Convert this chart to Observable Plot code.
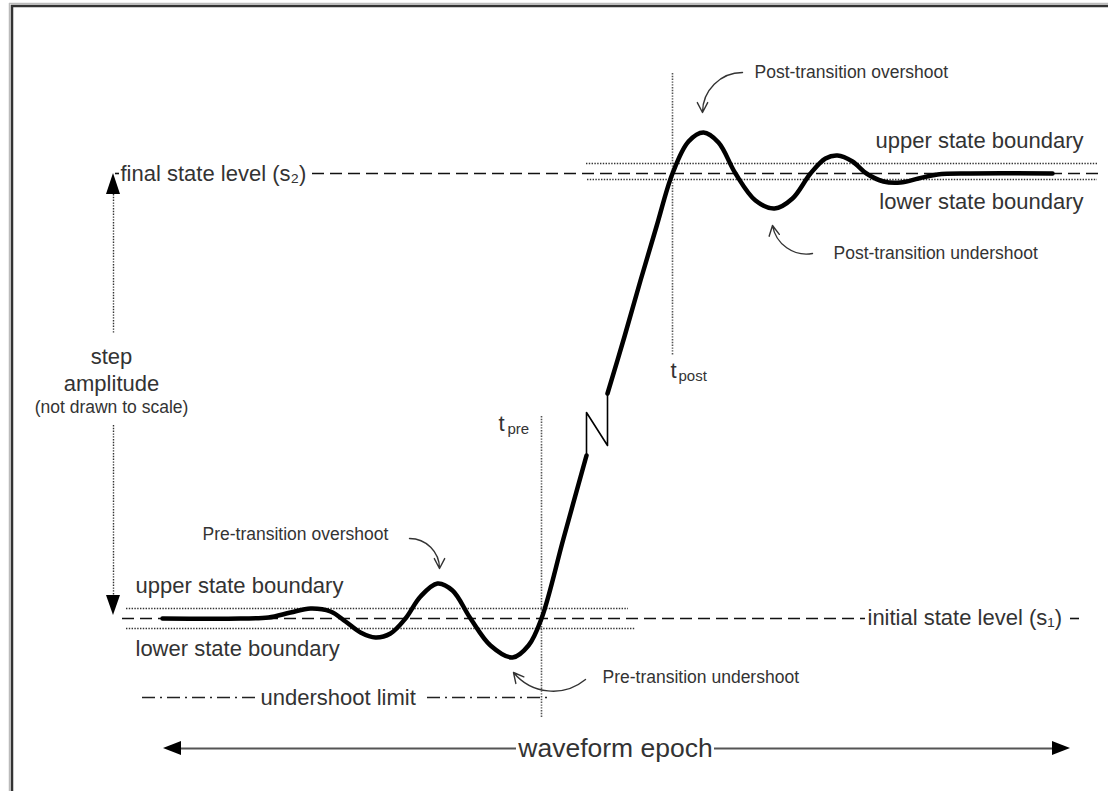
<!DOCTYPE html>
<html><head><meta charset="utf-8">
<script src="https://cdn.jsdelivr.net/npm/d3@7"></script>
<script src="https://cdn.jsdelivr.net/npm/@observablehq/plot@0.6"></script>
<style>html,body{margin:0;background:#fff;overflow:hidden}svg{display:block}</style>
</head><body><div id="chart"></div>
<script>
const W = 1108, H = 791;

const preWave = [[162,618],[240,618],[268,617],[290,612],[310,608],[330,611],[345,621],[360,632],[375,637],[390,633],[405,618],[420,596],[437,583],[452,590],[470,618],[490,645],[512,657],[528,645],[541,618],[563,538],[586,455]];
const breakLine = [[586,455],[586,412],[607,445],[607,393]];
const postWave = [[607,393],[624,336],[640,280],[656,226],[672,173],[688,141],[703,132],[718,142],[735,173],[755,200],[774,208],[792,198],[810,173],[825,158],[837,155],[852,161],[866,173],[883,181],[900,182],[918,178],[937,174],[970,173],[1052,173]];

// reference levels
const dashedLevels = [
  {y:173, x1:115, x2:119},
  {y:173, x1:312, x2:1103},
  {y:618, x1:122, x2:865},
  {y:618, x1:1070, x2:1079}
];
const dottedBounds = [
  {y:608, x1:126, x2:628}, {y:628, x1:126, x2:635},
  {y:163, x1:586, x2:1097}, {y:179, x1:587, x2:1097}
];
const undershootLimit = [{y:697, x1:142, x2:258}, {y:697, x1:427, x2:552}];
const timeMarks = [{x:541, y1:416, y2:718}, {x:672, y1:73, y2:355}];
const amplitudeDots = [{x:113, y1:194, y2:333}, {x:113, y1:425, y2:595}];
const epochLine = [{y:748, x1:181, x2:516}, {y:748, x1:714, x2:1052}];

// arrow heads (filled triangles)
const upHead = [[106,194,194],[113,194,173],[120,194,194]];
const downHead = [[106,595,595],[113,595,615],[120,595,595]];
const leftHead = [[741,181,181],[748,181,163],[755,181,181]];
const rightHead = [[741,1052,1052],[748,1052,1070],[755,1052,1052]];

// annotation arrows (start → tip)
const notesCW = [
  {x1:409, y1:538, x2:439, y2:568},
  {x1:585, y1:679, x2:513, y2:672},
  {x1:812, y1:253, x2:772, y2:225}
];
const notesCCW = [
  {x1:742, y1:72, x2:702, y2:112}
];

// labels
const mainStart = [
  {x:120, y:173, text:"final state level (s₂)"},
  {x:867, y:617, text:"initial state level (s₁)"},
  {x:135, y:585, text:"upper state boundary"},
  {x:135, y:648, text:"lower state boundary"},
  {x:260, y:697, text:"undershoot limit"}
];
const mainEnd = [
  {x:1083, y:140, text:"upper state boundary"},
  {x:1083, y:201, text:"lower state boundary"}
];
const mainMiddle = [{x:111, y:356, text:"step"}, {x:111, y:383, text:"amplitude"}];
const smallStart = [
  {x:202, y:534, text:"Pre-transition overshoot"},
  {x:602, y:677, text:"Pre-transition undershoot"},
  {x:754, y:72, text:"Post-transition overshoot"},
  {x:833, y:253, text:"Post-transition undershoot"}
];
const smallMiddle = [{x:111, y:407, text:"(not drawn to scale)"}];
const epochLabel = [{x:615, y:748, text:"waveform epoch"}];
const tLetters = [{x:498, y:423, text:"t"}, {x:670, y:370, text:"t"}];
const tSubs = [{x:507, y:429, text:"pre"}, {x:678, y:376, text:"post"}];

const font = "'Liberation Sans', Arial, Helvetica, sans-serif";
const ink = "#333";
const arrowStyle = {x1: "x1", y1: "y1", x2: "x2", y2: "y2", stroke: "#333", strokeWidth: 1.4, headLength: 12, headAngle: 55};
const dotted = {stroke: "#333", strokeWidth: 1.4, strokeDasharray: "1.4,1.4"};

const chart = Plot.plot({
  width: W, height: H, margin: 0,
  x: {domain: [0, W], range: [0, W], axis: null},
  y: {domain: [0, H], range: [0, H], axis: null},
  style: {fontFamily: font, background: "#fff"},
  marks: [
    // frame
    Plot.ruleY([3], {x1: 9, x2: W, stroke: "#bbb", strokeWidth: 1.5}),
    Plot.ruleX([9], {y1: 3, y2: H, stroke: "#bbb", strokeWidth: 1.5}),
    Plot.ruleY([5.5], {x1: 11, x2: W, stroke: "#333", strokeWidth: 2.5}),
    Plot.ruleX([11.5], {y1: 5, y2: H, stroke: "#333", strokeWidth: 2.5}),
    // levels & boundaries
    Plot.ruleY(dottedBounds, {y: "y", x1: "x1", x2: "x2", ...dotted}),
    Plot.ruleY(dashedLevels, {y: "y", x1: "x1", x2: "x2", stroke: "#111", strokeWidth: 1.6, strokeDasharray: "12,6"}),
    Plot.ruleY(undershootLimit, {y: "y", x1: "x1", x2: "x2", stroke: "#222", strokeWidth: 1.6, strokeDasharray: "13,5,2,5"}),
    Plot.ruleX(timeMarks, {x: "x", y1: "y1", y2: "y2", ...dotted, stroke: "#555", strokeWidth: 1.6}),
    Plot.ruleX(amplitudeDots, {x: "x", y1: "y1", y2: "y2", ...dotted}),
    Plot.ruleY(epochLine, {y: "y", x1: "x1", x2: "x2", stroke: "#555", strokeWidth: 2}),
    Plot.areaY(upHead, {x: d => d[0], y1: d => d[1], y2: d => d[2], fill: "#000"}),
    Plot.areaY(downHead, {x: d => d[0], y1: d => d[1], y2: d => d[2], fill: "#000"}),
    Plot.areaX(leftHead, {y: d => d[0], x1: d => d[1], x2: d => d[2], fill: "#000"}),
    Plot.areaX(rightHead, {y: d => d[0], x1: d => d[1], x2: d => d[2], fill: "#000"}),
    // waveform
    Plot.line(preWave, {curve: "catmull-rom", stroke: "#000", strokeWidth: 4.5, strokeLinecap: "round"}),
    Plot.line(postWave, {curve: "catmull-rom", stroke: "#000", strokeWidth: 4.5, strokeLinecap: "round"}),
    Plot.line(breakLine, {stroke: "#000", strokeWidth: 1.6}),
    // annotation arrows
    Plot.arrow(notesCW, {...arrowStyle, bend: 45}),
    Plot.arrow(notesCCW, {...arrowStyle, bend: -45}),
    // labels
    Plot.text(mainStart, {x: "x", y: "y", text: "text", textAnchor: "start", fontSize: 22, fill: ink}),
    Plot.text(mainEnd, {x: "x", y: "y", text: "text", textAnchor: "end", fontSize: 22, fill: ink}),
    Plot.text(mainMiddle, {x: "x", y: "y", text: "text", fontSize: 22, fill: ink}),
    Plot.text(smallStart, {x: "x", y: "y", text: "text", textAnchor: "start", fontSize: 17.5, fill: ink}),
    Plot.text(smallMiddle, {x: "x", y: "y", text: "text", fontSize: 17.5, fill: ink}),
    Plot.text(epochLabel, {x: "x", y: "y", text: "text", fontSize: 26.5, fill: ink}),
    Plot.text(tLetters, {x: "x", y: "y", text: "text", textAnchor: "start", fontSize: 22, fill: ink}),
    Plot.text(tSubs, {x: "x", y: "y", text: "text", textAnchor: "start", fontSize: 15, fill: ink})
  ]
});
document.getElementById("chart").append(chart);
</script>
</body></html>
